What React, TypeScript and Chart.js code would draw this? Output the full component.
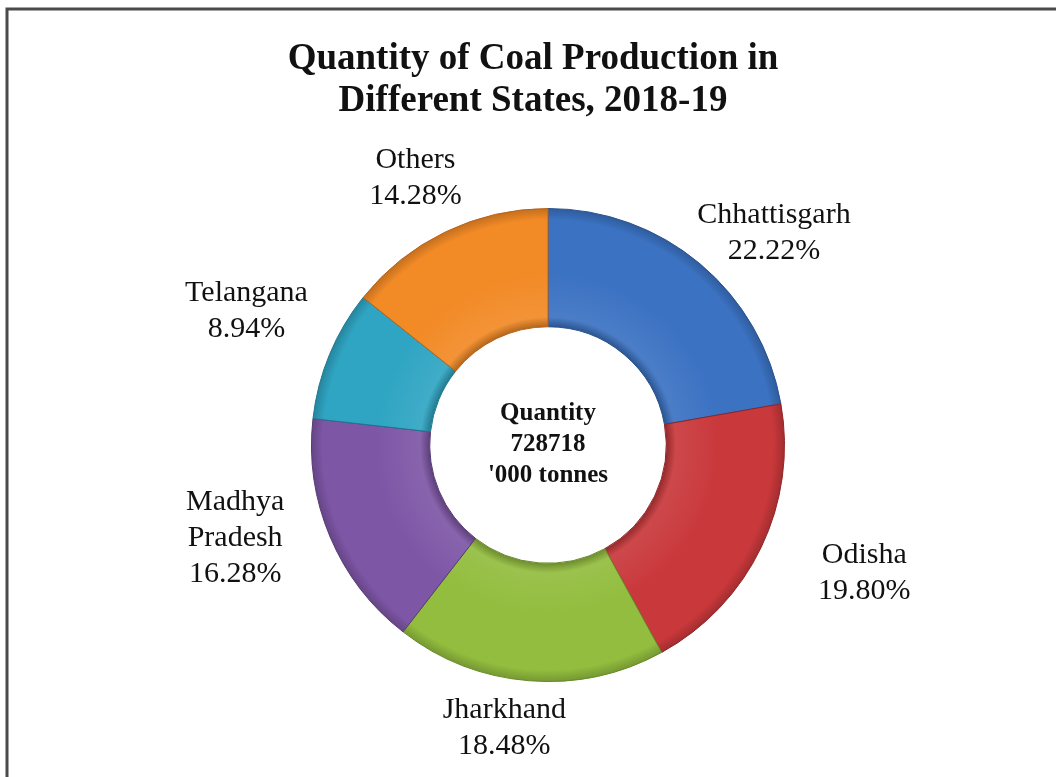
import React, { useEffect, useRef } from "react";
import { Chart, registerables } from "chart.js";

Chart.register(...registerables);

const states = ["Chhattisgarh", "Odisha", "Jharkhand", "Madhya Pradesh", "Telangana", "Others"];
const shares = [22.22, 19.8, 18.48, 16.28, 8.94, 14.28];
const titleLines = ["Quantity of Coal Production in", "Different States, 2018-19"];
const centerLines = ["Quantity", "728718", "'000 tonnes"];

const sliceColors = ["#3b72c2", "#c9383b", "#92bd3e", "#7e56a6", "#2fa5c3", "#f28a26"];
const sliceEdges = ["#2a5390", "#8f2527", "#678a2a", "#583b77", "#1f7790", "#b8641a"];
// label nudges from the outer-edge point at each slice's mid-angle
const labelNudges: [number, number][] = [
  [74, -31],
  [103, 26],
  [-25, 47],
  [-95, 1],
  [-83, -43],
  [-30, -54],
];

const SERIF = "'Liberation Serif', 'Times New Roman', serif";

function shade(hex: string, amt: number) {
  const n = parseInt(hex.slice(1), 16);
  let r = (n >> 16) & 255, g = (n >> 8) & 255, b = n & 255;
  const f = (c: number) => Math.max(0, Math.min(255, Math.round(amt >= 0 ? c + (255 - c) * amt : c * (1 + amt))));
  return `rgb(${f(r)},${f(g)},${f(b)})`;
}

const framePlugin = {
  id: "frame",
  beforeDraw(chart: any) {
    const { ctx, width, height } = chart;
    ctx.save();
    ctx.fillStyle = "#ffffff";
    ctx.fillRect(0, 0, width, height);
    ctx.strokeStyle = "#4a4a4a";
    ctx.lineWidth = 3;
    ctx.beginPath();
    ctx.moveTo(7, height + 5);
    ctx.lineTo(7, 9);
    ctx.lineTo(width + 5, 9);
    ctx.stroke();
    ctx.restore();
  },
};

const textPlugin = {
  id: "texts",
  afterDraw(chart: any) {
    const { ctx } = chart;
    ctx.save();
    ctx.fillStyle = "#111111";
    ctx.textAlign = "center";
    ctx.textBaseline = "middle";
    // title
    ctx.font = `bold 37px ${SERIF}`;
    titleLines.forEach((t, i) => ctx.fillText(t, 533, 59 + i * 42));

    const meta = chart.getDatasetMeta(0);
    const arcs = meta.data;
    if (arcs.length) {
      const { x: cx, y: cy } = arcs[0].getProps(["x", "y"], true);
      // center text
      ctx.font = `bold 25px ${SERIF}`;
      centerLines.forEach((t, i) => ctx.fillText(t, cx, cy - 31 + i * 31));
      // slice labels
      ctx.font = `30px ${SERIF}`;
      arcs.forEach((arc: any, i: number) => {
        const p = arc.getProps(["x", "y", "startAngle", "endAngle", "outerRadius"], true);
        const mid = (p.startAngle + p.endAngle) / 2;
        const ex = p.x + Math.cos(mid) * p.outerRadius;
        const ey = p.y + Math.sin(mid) * p.outerRadius;
        const lx = ex + labelNudges[i][0];
        const ly = ey + labelNudges[i][1];
        const lines = [...states[i].split(" "), shares[i].toFixed(2) + "%"];
        const lh = 36;
        const top = ly - ((lines.length - 1) * lh) / 2;
        lines.forEach((t, k) => ctx.fillText(t, lx, top + k * lh));
      });
    }
    ctx.restore();
  },
};

export default function App() {
  const ref = useRef<HTMLCanvasElement | null>(null);
  useEffect(() => {
    if (!ref.current) return;
    const chart = new Chart(ref.current, {
      type: "doughnut",
      data: {
        labels: states,
        datasets: [
          {
            data: shares,
            backgroundColor: (c: any) => {
              const i = c.dataIndex;
              const base = sliceColors[i];
              const area = c.chart.chartArea;
              if (!area) return base;
              const cx = (area.left + area.right) / 2;
              const cy = (area.top + area.bottom) / 2;
              const R = Math.min(area.right - area.left, area.bottom - area.top) / 2;
              const g = c.chart.ctx.createRadialGradient(cx, cy, R * 0.5, cx, cy, R);
              g.addColorStop(0, shade(base, -0.25));
              g.addColorStop(0.08, shade(base, 0.08));
              g.addColorStop(0.45, base);
              g.addColorStop(0.9, base);
              g.addColorStop(1, shade(base, -0.2));
              return g;
            },
            borderColor: sliceEdges,
            borderWidth: 1,
          },
        ],
      },
      options: {
        responsive: false,
        animation: false,
        cutout: "50%",
        layout: { padding: { top: 208, bottom: 95, left: 100, right: 60 } },
        plugins: {
          legend: { display: false },
          tooltip: { enabled: false },
          title: { display: false },
        },
      },
      plugins: [framePlugin, textPlugin],
    });
    return () => chart.destroy();
  }, []);
  return (
    <div style={{ position: "fixed", left: 0, top: 0, width: 1056, height: 777, background: "#fff" }}>
      <canvas ref={ref} width={1056} height={777} style={{ display: "block" }} />
    </div>
  );
}
